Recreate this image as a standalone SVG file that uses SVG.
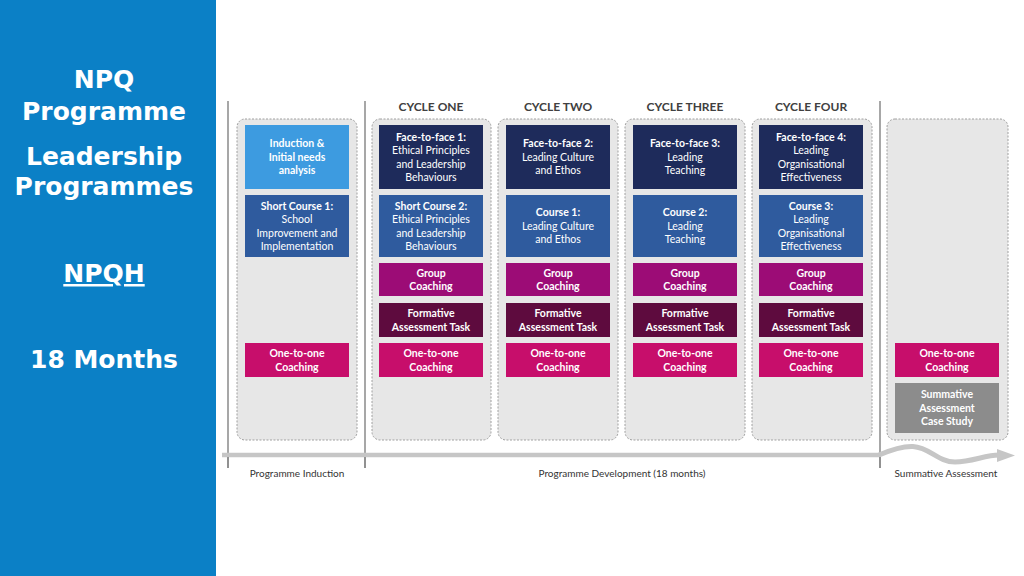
<svg xmlns="http://www.w3.org/2000/svg" width="1024" height="576" viewBox="0 0 1024 576">
<style>
.side{font-family:"DejaVu Sans","Liberation Sans",sans-serif;font-weight:bold;font-size:25px;fill:#fff;text-anchor:middle}
.hdr{font-family:Lato,"Liberation Sans",sans-serif;font-weight:bold;font-size:12px;fill:#404040;text-anchor:middle}
.lbl{font-family:Lato,"Liberation Sans",sans-serif;font-size:10px;fill:#333;text-anchor:middle}
.bt{font-family:Lato,"Liberation Sans",sans-serif;font-size:10.5px;fill:#fff;text-anchor:middle}
.b{font-weight:bold}
.col{fill:#e7e7e7;stroke:#a0a0a0;stroke-width:1;stroke-dasharray:2 1.5}
.vl{stroke:#8a8a8a;stroke-width:1.5}
.light{fill:#3d9be0}
.navy{fill:#1e2b5b}
.blue{fill:#2f5b9e}
.grp{fill:#9c0c76}
.form{fill:#5e0b3e}
.one{fill:#c70e6b}
.gray{fill:#8c8c8c}
</style>
<rect x="0" y="0" width="1024" height="576" fill="#fff"/>
<g id="sidebar">
<rect x="0" y="0" width="216" height="576" fill="#0b80c6"/>
<text class="side" x="104" y="88">NPQ</text>
<text class="side" x="104" y="120">Programme</text>
<text class="side" x="104" y="165">Leadership</text>
<text class="side" x="104" y="195">Programmes</text>
<text class="side" x="104" y="282" text-decoration="underline">NPQH</text>
<text class="side" x="104" y="368">18 Months</text>
</g>
<g id="connectors">
<line class="vl" x1="228" y1="101" x2="228" y2="468"/>
<line class="vl" x1="365" y1="101" x2="365" y2="468"/>
<line class="vl" x1="880" y1="101" x2="880" y2="468"/>
</g>
<g id="headers">
<text class="hdr" x="431" y="111">CYCLE ONE</text>
<text class="hdr" x="558" y="111">CYCLE TWO</text>
<text class="hdr" x="685" y="111">CYCLE THREE</text>
<text class="hdr" x="811" y="111">CYCLE FOUR</text>
</g>
<g id="columns">
<rect class="col" x="237" y="119" width="120" height="321" rx="8"/>
<rect class="col" x="372" y="119" width="119" height="321" rx="8"/>
<rect class="col" x="498" y="119" width="120" height="321" rx="8"/>
<rect class="col" x="625" y="119" width="120" height="321" rx="8"/>
<rect class="col" x="752" y="119" width="120" height="321" rx="8"/>
<rect class="col" x="887" y="119" width="121" height="321" rx="8"/>
</g>
<g id="induction">
<rect class="light" x="245" y="125" width="104" height="64"/>
<text class="bt b" x="297" y="147">Induction &amp;<tspan x="297" dy="13.5">Initial needs</tspan><tspan x="297" dy="13.5">analysis</tspan></text>
</g>
<g id="short-course-1">
<rect class="blue" x="245" y="195" width="104" height="62"/>
<text class="bt" x="297" y="209.5"><tspan class="b">Short Course 1:</tspan><tspan x="297" dy="13.5">School</tspan><tspan x="297" dy="13.5">Improvement and</tspan><tspan x="297" dy="13.5">Implementation</tspan></text>
</g>
<g id="one-to-one-0">
<rect class="one" x="245" y="343" width="104" height="34"/>
<text class="bt b" x="297" y="357">One-to-one<tspan x="297" dy="13.5">Coaching</tspan></text>
</g>
<g id="f2f-1">
<rect class="navy" x="379" y="125" width="104" height="64"/>
<text class="bt" x="431" y="140.5"><tspan class="b">Face-to-face 1:</tspan><tspan x="431" dy="13.5">Ethical Principles</tspan><tspan x="431" dy="13.5">and Leadership</tspan><tspan x="431" dy="13.5">Behaviours</tspan></text>
</g>
<g id="short-course-2">
<rect class="blue" x="379" y="195" width="104" height="62"/>
<text class="bt" x="431" y="209.5"><tspan class="b">Short Course 2:</tspan><tspan x="431" dy="13.5">Ethical Principles</tspan><tspan x="431" dy="13.5">and Leadership</tspan><tspan x="431" dy="13.5">Behaviours</tspan></text>
</g>
<g id="group-1">
<rect class="grp" x="379" y="263" width="104" height="33"/>
<text class="bt b" x="431" y="276.5">Group<tspan x="431" dy="13.5">Coaching</tspan></text>
</g>
<g id="formative-1">
<rect class="form" x="379" y="303" width="104" height="34"/>
<text class="bt b" x="431" y="317">Formative<tspan x="431" dy="13.5">Assessment Task</tspan></text>
</g>
<g id="one-to-one-1">
<rect class="one" x="379" y="343" width="104" height="34"/>
<text class="bt b" x="431" y="357">One-to-one<tspan x="431" dy="13.5">Coaching</tspan></text>
</g>
<g id="f2f-2">
<rect class="navy" x="506" y="125" width="104" height="64"/>
<text class="bt" x="558" y="147"><tspan class="b">Face-to-face 2:</tspan><tspan x="558" dy="13.5">Leading Culture</tspan><tspan x="558" dy="13.5">and Ethos</tspan></text>
</g>
<g id="course-1">
<rect class="blue" x="506" y="195" width="104" height="62"/>
<text class="bt" x="558" y="216"><tspan class="b">Course 1:</tspan><tspan x="558" dy="13.5">Leading Culture</tspan><tspan x="558" dy="13.5">and Ethos</tspan></text>
</g>
<g id="group-2">
<rect class="grp" x="506" y="263" width="104" height="33"/>
<text class="bt b" x="558" y="276.5">Group<tspan x="558" dy="13.5">Coaching</tspan></text>
</g>
<g id="formative-2">
<rect class="form" x="506" y="303" width="104" height="34"/>
<text class="bt b" x="558" y="317">Formative<tspan x="558" dy="13.5">Assessment Task</tspan></text>
</g>
<g id="one-to-one-2">
<rect class="one" x="506" y="343" width="104" height="34"/>
<text class="bt b" x="558" y="357">One-to-one<tspan x="558" dy="13.5">Coaching</tspan></text>
</g>
<g id="f2f-3">
<rect class="navy" x="633" y="125" width="104" height="64"/>
<text class="bt" x="685" y="147"><tspan class="b">Face-to-face 3:</tspan><tspan x="685" dy="13.5">Leading</tspan><tspan x="685" dy="13.5">Teaching</tspan></text>
</g>
<g id="course-2">
<rect class="blue" x="633" y="195" width="104" height="62"/>
<text class="bt" x="685" y="216"><tspan class="b">Course 2:</tspan><tspan x="685" dy="13.5">Leading</tspan><tspan x="685" dy="13.5">Teaching</tspan></text>
</g>
<g id="group-3">
<rect class="grp" x="633" y="263" width="104" height="33"/>
<text class="bt b" x="685" y="276.5">Group<tspan x="685" dy="13.5">Coaching</tspan></text>
</g>
<g id="formative-3">
<rect class="form" x="633" y="303" width="104" height="34"/>
<text class="bt b" x="685" y="317">Formative<tspan x="685" dy="13.5">Assessment Task</tspan></text>
</g>
<g id="one-to-one-3">
<rect class="one" x="633" y="343" width="104" height="34"/>
<text class="bt b" x="685" y="357">One-to-one<tspan x="685" dy="13.5">Coaching</tspan></text>
</g>
<g id="f2f-4">
<rect class="navy" x="759" y="125" width="104" height="64"/>
<text class="bt" x="811" y="140.5"><tspan class="b">Face-to-face 4:</tspan><tspan x="811" dy="13.5">Leading</tspan><tspan x="811" dy="13.5">Organisational</tspan><tspan x="811" dy="13.5">Effectiveness</tspan></text>
</g>
<g id="course-3">
<rect class="blue" x="759" y="195" width="104" height="62"/>
<text class="bt" x="811" y="209.5"><tspan class="b">Course 3:</tspan><tspan x="811" dy="13.5">Leading</tspan><tspan x="811" dy="13.5">Organisational</tspan><tspan x="811" dy="13.5">Effectiveness</tspan></text>
</g>
<g id="group-4">
<rect class="grp" x="759" y="263" width="104" height="33"/>
<text class="bt b" x="811" y="276.5">Group<tspan x="811" dy="13.5">Coaching</tspan></text>
</g>
<g id="formative-4">
<rect class="form" x="759" y="303" width="104" height="34"/>
<text class="bt b" x="811" y="317">Formative<tspan x="811" dy="13.5">Assessment Task</tspan></text>
</g>
<g id="one-to-one-4">
<rect class="one" x="759" y="343" width="104" height="34"/>
<text class="bt b" x="811" y="357">One-to-one<tspan x="811" dy="13.5">Coaching</tspan></text>
</g>
<g id="one-to-one-5">
<rect class="one" x="895" y="343" width="104" height="34"/>
<text class="bt b" x="947" y="357">One-to-one<tspan x="947" dy="13.5">Coaching</tspan></text>
</g>
<g id="summative">
<rect class="gray" x="895" y="383" width="104" height="50"/>
<text class="bt b" x="947" y="398.3">Summative<tspan x="947" dy="13.5">Assessment</tspan><tspan x="947" dy="13.5">Case Study</tspan></text>
</g>
<g id="timeline">
<line x1="222" y1="455" x2="881" y2="455" stroke="#c6c6c6" stroke-width="4.5"/>
<path d="M879,455 C893,449 903,446 913,446.5 C930,447.5 938,462 955,462 C972,462 985,455 999,455" fill="none" stroke="#c6c6c6" stroke-width="5"/>
<polygon points="997,449 1015,455.5 997,462" fill="#c6c6c6"/>
<line class="vl" x1="228" y1="457" x2="228" y2="468"/>
<line class="vl" x1="365" y1="457" x2="365" y2="468"/>
<line class="vl" x1="880" y1="457" x2="880" y2="468"/>
<text class="lbl" x="297" y="477">Programme Induction</text>
<text class="lbl" x="622" y="477">Programme Development (18 months)</text>
<text class="lbl" x="946" y="477">Summative Assessment</text>
</g>
</svg>
